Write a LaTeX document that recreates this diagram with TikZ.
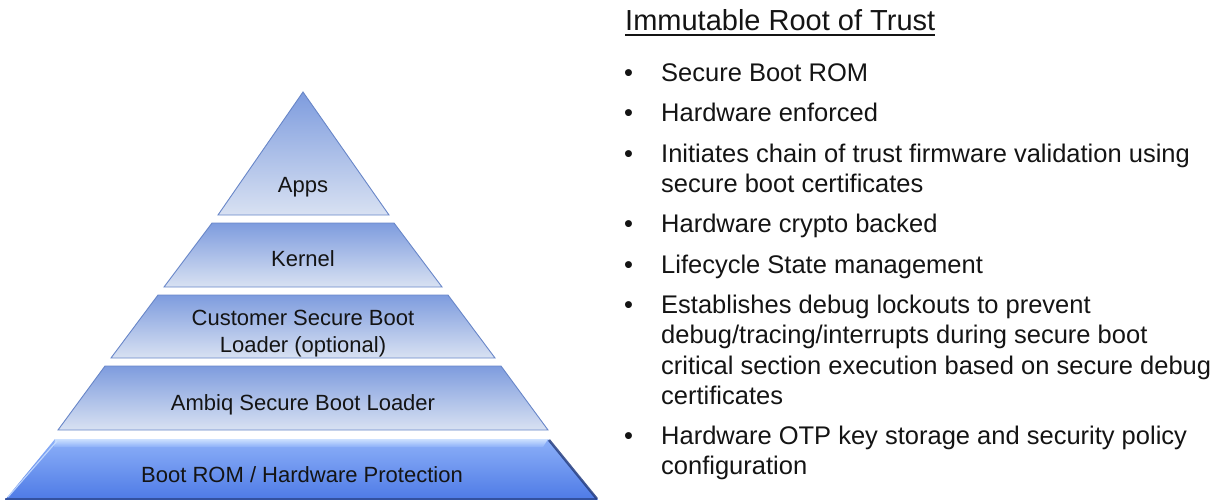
\documentclass[tikz,border=0pt]{standalone}
\usepackage{fontspec}
\setmainfont{Liberation Sans}
\usetikzlibrary{shadings}
\definecolor{tiertop}{RGB}{126,156,222}
\definecolor{tierbot}{RGB}{216,225,242}
\definecolor{tierline}{RGB}{104,134,200}
\definecolor{baseTop}{RGB}{140,176,248}
\definecolor{baseBot}{RGB}{78,122,230}
\definecolor{baseLight}{RGB}{205,225,255}
\definecolor{baseDark}{RGB}{40,64,130}
\definecolor{txt}{RGB}{20,20,20}
\tikzset{
  tier/.style={draw=tierline, line width=0.9pt, top color=tiertop, bottom color=tierbot, line join=miter},
  lbl/.style={inner sep=0pt, anchor=base, text=txt, font=\fontsize{22}{26}\selectfont},
  bul/.style={inner sep=0pt, anchor=base west, text=txt, font=\fontsize{25.5}{30}\selectfont},
  dot/.style={inner sep=0pt, anchor=base west, text=txt, font=\fontsize{25.5}{30}\selectfont},
  ttl/.style={inner sep=0pt, anchor=base west, text=txt, font=\fontsize{29}{34}\selectfont},
}
\begin{document}
\begin{tikzpicture}[x=1pt,y=-1pt]
\useasboundingbox (0,0) rectangle (1215,500);
% pyramid tiers
\path[tier] (303,92) -- (389,215) -- (218,215) -- cycle;
\path[tier] (212,223) -- (394,223) -- (442,287) -- (164,287) -- cycle;
\path[tier] (158,295) -- (448,295) -- (495,358) -- (111,358) -- cycle;
\path[tier] (105,366) -- (501,366) -- (548,430) -- (58,430) -- cycle;
% base tier
\path[top color=baseTop, bottom color=baseBot] (55,439) -- (548,439) -- (598,500) -- (5,500) -- cycle;
\path[top color=baseLight, bottom color=baseTop] (55,439) -- (548,439) -- (543,447) -- (54,447) -- cycle;
\draw[baseDark, opacity=0.85, line width=2.5pt] (549,440) -- (597,499);
\draw[baseDark, opacity=0.7, line width=2pt] (5,499) -- (597,499);
\draw[baseLight, opacity=0.8, line width=1.2pt] (8,497) -- (57,441);
% labels
\node[lbl] (apps) at (303,192) {Apps};
\node[lbl] (kernel) at (303,266) {Kernel};
\node[lbl] (csbl1) at (303,325) {Customer Secure Boot};
\node[lbl] (csbl2) at (303,352) {Loader (optional)};
\node[lbl] (asbl) at (303,410) {Ambiq Secure Boot Loader};
\node[lbl] (rom) at (302,482) {Boot ROM / Hardware Protection};
% title
\node[ttl] (title) at (625,31) {Immutable Root of Trust};
\draw[txt, line width=1.8pt] ([yshift=-4pt]title.base west) -- ([yshift=-4pt]title.base east);
% bullets
\node[dot] (d1) at (624,82) {•};
\node[bul] (t1) at (661,82) {Secure Boot ROM};
\node[dot] (d2) at (624,122) {•};
\node[bul] (t2) at (661,122) {Hardware enforced};
\node[dot] (d3) at (624,162) {•};
\node[bul] (t3a) at (661,162) {Initiates chain of trust firmware validation using};
\node[bul] (t3b) at (661,192.5) {secure boot certificates};
\node[dot] (d4) at (624,232.5) {•};
\node[bul] (t4) at (661,232.5) {Hardware crypto backed};
\node[dot] (d5) at (624,273) {•};
\node[bul] (t5) at (661,273) {Lifecycle State management};
\node[dot] (d6) at (624,313) {•};
\node[bul] (t6a) at (661,313) {Establishes debug lockouts to prevent};
\node[bul] (t6b) at (661,343.5) {debug/tracing/interrupts during secure boot};
\node[bul] (t6c) at (661,374) {critical section execution based on secure debug};
\node[bul] (t6d) at (661,404.5) {certificates};
\node[dot] (d7) at (624,444) {•};
\node[bul] (t7a) at (661,444) {Hardware OTP key storage and security policy};
\node[bul] (t7b) at (661,474.5) {configuration};
\end{tikzpicture}
\end{document}
